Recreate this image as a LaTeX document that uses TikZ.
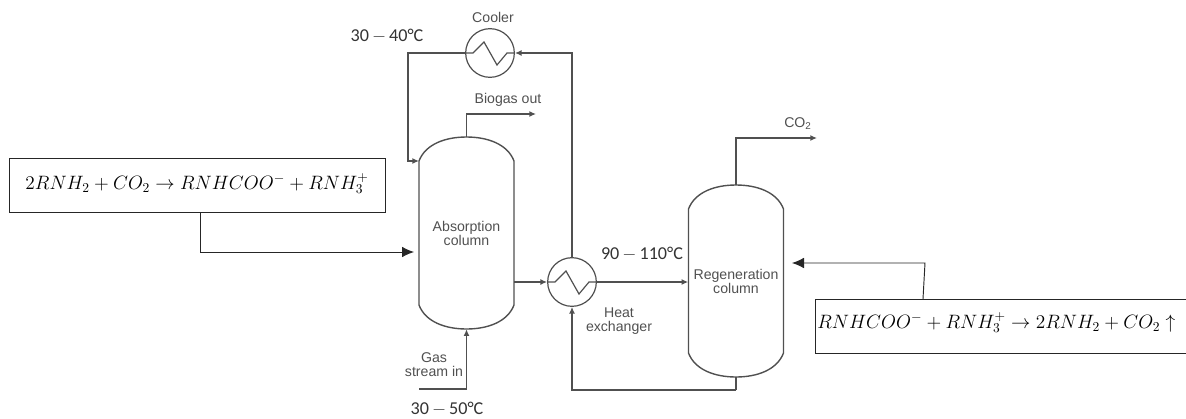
\RequirePackage{fix-cm}
\documentclass[tikz,border=0pt]{standalone}
\usepackage{fontspec}
\setmainfont{Liberation Sans}
\newfontfamily\tempfont{Carlito}
\usetikzlibrary{arrows.meta}
\definecolor{pipegrey}{HTML}{505050}
\definecolor{labelgrey}{HTML}{505050}
\tikzset{
  pipe/.style={draw=pipegrey,line width=1.05pt,line join=miter},
  flow/.style={pipe,-{Latex[length=5pt,width=4.5pt]}},
  bigflow/.style={draw=black!85,line width=0.7pt,-{Latex[length=9pt,width=8pt]}},
  exchanger/.style={circle,draw=pipegrey,line width=0.9pt,minimum size=36.5pt,inner sep=0pt},
  columnbody/.style={minimum width=71.25pt,minimum height=144pt,inner sep=0pt,align=center,font=\fontsize{10.6pt}{10.5pt}\selectfont,text=labelgrey},
  label/.style={font=\fontsize{10.6pt}{10.5pt}\selectfont,text=labelgrey,align=center,inner sep=0pt},
  temp/.style={font=\tempfont\fontsize{13.6pt}{15pt}\selectfont,text=black!80,inner sep=0pt},
  eqfont/.style={font=\fontsize{14.5pt}{18pt}\selectfont,inner sep=0pt},
  eqbox/.style={draw=black!85,line width=0.7pt,inner sep=0pt,minimum height=40.5pt},
  vessel/.pic={
    \draw[pipe] (-47.5,-72) -- (-47.5,72)
      .. controls (-41,89) and (-21,96) .. (0,96)
      .. controls (21,96) and (41,89) .. (47.5,72)
      -- (47.5,-72)
      .. controls (41,-89) and (21,-96) .. (0,-96)
      .. controls (-21,-96) and (-41,-89) .. (-47.5,-72) -- cycle;
  },
  coil/.pic={
    \draw[pipe,line width=0.9pt] (-24,0) -- (-17,0) -- (-6,11) -- (7,-12) -- (17,0) -- (24,0);
  }
}
\begin{document}
\begin{tikzpicture}[x=0.75pt,y=-0.75pt]
\useasboundingbox (0,0) rectangle (1186,418);
% equipment
\node[exchanger] (cooler) at (490,53) {};
\node[exchanger] (hx) at (572,282) {};
\node[columnbody] (abs) at (466.5,233) {Absorption\\column};
\node[columnbody] (reg) at (736,281) {Regeneration\\column};
\begin{scope}[y=0.75pt]
\pic at (abs.center) {vessel};
\pic at (reg.center) {vessel};
\pic at (cooler.center) {coil};
\pic at (hx.center) {coil};
\end{scope}
% equation boxes
\node[eqbox,minimum width=281.5pt] (eqa) at (197.5,185) {};
\node[eqfont] (eqatext) at (197,184) {$2RNH_2+CO_2\rightarrow RNHCOO^{-}+RNH_3^{+}$};
\node[eqbox,minimum width=285pt] (eqb) at (1005,326) {};
\node[eqfont,anchor=west] (eqbtext) at (817,323) {$RNHCOO^{-}+RNH_3^{+}\rightarrow 2RNH_2+CO_2\uparrow$};
% free ends
\coordinate (recycle) at (572,53);
\coordinate (recycleL) at (408,53);
\coordinate (absinlet) at (419,161);
\coordinate (biogas) at (536,114);
\coordinate (gasstart) at (419,389);
\coordinate (co2) at (817,138);
\coordinate (botcorner) at (736,390);
\coordinate (eqadrop) at (200,252);
\coordinate (eqain) at (414,252);
\coordinate (eqbrise) at (925,263);
\coordinate (eqbin) at (792,263);
\coordinate (eqbfoot) at (923,299);
% pipes
\draw[flow] (hx.north) -- (recycle) -- (cooler.east);
\draw[flow] (cooler.west) -- (recycleL) |- (absinlet);
\draw[flow] (abs.north) |- (biogas);
\draw[flow] (gasstart) -| (abs.south);
\draw[flow] (abs.east |- hx.west) -- (hx.west);
\draw[flow] (hx.east) -- (reg.west |- hx.east);
\draw[flow] (reg.north) |- (co2);
\draw[pipe] (reg.south) -- (botcorner);
\draw[flow] (botcorner) -| (hx.south);
\draw[bigflow] (eqa.south -| eqadrop) -- (eqadrop) -- (eqain);
\draw[bigflow] (eqbfoot) -- (eqbrise) -- (eqbin);
% labels
\node[label] (lcooler) at (493,17) {Cooler};
\node[label] (lbiogas) at (508,100) {Biogas out};
\node[label] (lgas) at (434,364.5) {Gas\\[-0.5pt]stream in};
\node[label] (lheat) at (619,321) {Heat\\exchanger};
\node[label,anchor=west] (lco) at (784,124) {CO\textsubscript{2}};
\node[temp] (t1) at (387,36) {30\,$-$\,40°C};
\node[temp] (t2) at (642,254) {90\,$-$\,110°C};
\node[temp] (t3) at (447,409) {30\,$-$\,50°C};
\end{tikzpicture}
\end{document}
